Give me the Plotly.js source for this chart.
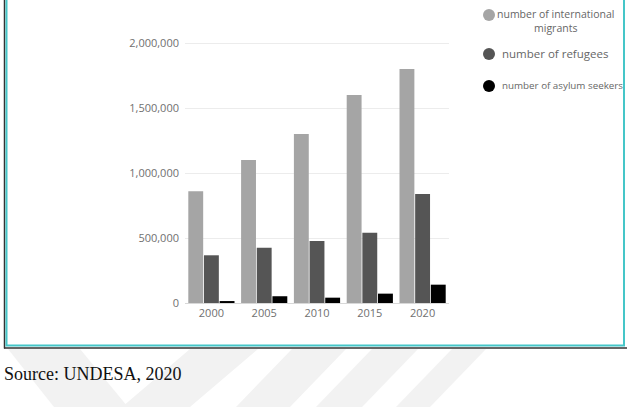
<!DOCTYPE html>
<html>
<head>
<meta charset="utf-8">
<script src="https://cdn.plot.ly/plotly-3.0.1.min.js"></script>
<style>
  html, body { margin: 0; padding: 0; background: #ffffff; }
  #chart { width: 627px; height: 407px; }
</style>
</head>
<body>
<div id="chart"></div>
<script>
// Migration figures by year (UNDESA, 2020)
const years = ['2000', '2005', '2010', '2015', '2020'];
const migrants = [860000, 1100000, 1300000, 1600000, 1800000];
const refugees = [367000, 425000, 477000, 541000, 838000];
const asylumSeekers = [15000, 52000, 41000, 72000, 141000];

const seriesNames = ['number of international migrants', 'number of refugees', 'number of asylum seekers'];
const seriesColors = ['#a5a5a5', '#555555', '#000000'];
const yTicks = [0, 500000, 1000000, 1500000, 2000000];
const sourceNote = 'Source: UNDESA, 2020';

const W = 627, H = 407;
// page pixel -> paper coordinate (margins are zero, so paper == page)
const px = x => x / W;
const py = y => 1 - y / H;

const tickFont = { family: 'Open Sans, sans-serif', size: 11, color: '#707070' };
const legendFont = { family: 'Open Sans, sans-serif', color: '#666666' };

const seriesValues = [migrants, refugees, asylumSeekers];
const traces = seriesValues.map((vals, i) => ({
  type: 'bar',
  name: seriesNames[i],
  x: years,
  y: vals,
  marker: { color: seriesColors[i], line: { width: 0 } },
  hoverinfo: 'x+y+name',
  showlegend: false
}));

// Hand-placed legend: circle swatches with labels at the upper right
const legendRows = [
  { text: 'number of international<br>migrants', cy: 15, tx: 555.5, ty: 21.5, anchor: 'center', size: 10.5 },
  { text: 'number of refugees', cy: 54, tx: 500, ty: 54, anchor: 'left', size: 11.5 },
  { text: 'number of asylum seekers', cy: 86, tx: 500, ty: 86, anchor: 'left', size: 9.8 }
];

const shapes = [];
const annotations = [];

// faint diagonal stripes of the page background below the frame
const stripes = [
  [[8, 349], [80, 349], [128, 407], [54, 407]],
  [[190, 349], [258, 349], [190, 407], [122, 407]],
  [[292, 349], [346, 349], [290, 407], [236, 407]],
  [[372, 349], [418, 349], [362, 407], [316, 407]],
  [[452, 349], [486, 349], [430, 407], [396, 407]]
];
stripes.forEach(poly => {
  const d = poly.map((p, k) => (k ? 'L' : 'M') + px(p[0]).toFixed(4) + ',' + py(p[1]).toFixed(4)).join(' ') + ' Z';
  shapes.push({ type: 'path', xref: 'paper', yref: 'paper', path: d, fillcolor: '#f2f2f2', line: { width: 0 }, layer: 'below' });
});

// teal frame with a dark edge on the left and bottom
shapes.push({ type: 'line', xref: 'paper', yref: 'paper', x0: px(4.5), x1: px(4.5), y0: py(-2), y1: py(348.5), line: { color: '#333333', width: 1.5 } });
shapes.push({ type: 'line', xref: 'paper', yref: 'paper', x0: px(4), x1: px(627), y0: py(348), y1: py(348), line: { color: '#333333', width: 1.5 } });
shapes.push({ type: 'rect', xref: 'paper', yref: 'paper', x0: px(6.5), x1: px(624), y0: py(345.5), y1: py(-3), line: { color: '#45c6c8', width: 2 }, fillcolor: 'rgba(0,0,0,0)' });

legendRows.forEach((row, i) => {
  shapes.push({
    type: 'circle', xref: 'paper', yref: 'paper',
    x0: px(483), x1: px(495), y0: py(row.cy + 6), y1: py(row.cy - 6),
    fillcolor: seriesColors[i], line: { width: 0 }
  });
  annotations.push({
    xref: 'paper', yref: 'paper', x: px(row.tx), y: py(row.ty),
    xanchor: row.anchor, yanchor: 'middle', align: 'center',
    text: row.text, showarrow: false,
    font: Object.assign({ size: row.size }, legendFont)
  });
});

annotations.push({
  xref: 'paper', yref: 'paper', x: px(2), y: py(374),
  xanchor: 'left', yanchor: 'middle', showarrow: false,
  text: sourceNote,
  font: { family: 'Liberation Serif, Times New Roman, serif', size: 18, color: '#111111' }
});

const layout = {
  width: W, height: H,
  margin: { l: 0, r: 0, t: 0, b: 0, pad: 0 },
  paper_bgcolor: '#ffffff',
  plot_bgcolor: '#ffffff',
  barmode: 'group',
  bargap: 0.11,
  bargroupgap: 0.05,
  showlegend: false,
  xaxis: {
    type: 'category',
    domain: [px(185), px(449)],
    showgrid: false, zeroline: false, showline: false,
    ticks: '', tickfont: tickFont, ticklabelstandoff: 2,
    fixedrange: true
  },
  yaxis: {
    domain: [py(303), py(36.5)],
    range: [0, 2050000],
    tickvals: yTicks,
    tickformat: ',d',
    showgrid: true, gridcolor: '#ececec', gridwidth: 1,
    zeroline: true, zerolinecolor: '#d8d8d8', zerolinewidth: 1,
    showline: false, ticks: '', tickfont: tickFont, ticklabelstandoff: 5,
    fixedrange: true
  },
  shapes: shapes,
  annotations: annotations,
  font: { family: 'Open Sans, sans-serif' }
};

Plotly.newPlot('chart', traces, layout, { displayModeBar: false, staticPlot: false, responsive: false });
</script>
</body>
</html>
